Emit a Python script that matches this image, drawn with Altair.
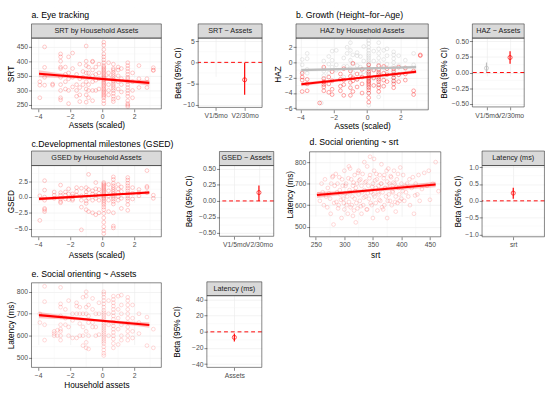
import altair as alt
import pandas as pd

FONT = "Liberation Sans"
RED = "#FF0000"
GREY = "#BDBDBD"
INK = "#333333"

# ---------------- data ----------------
ASSET_TICKS = [-4, -2, 0, 2]
ASSET_MINOR = [-3, -1, 1, 3]
SRT_TICKS = [250, 300, 350, 400, 450]
SRT_MINOR = [275, 325, 375, 425]
LAT_TICKS = [500, 600, 700, 800]
LAT_MINOR = [550, 650, 750]

# a. SRT by household assets  {assets: [SRT values]}
a_srt = {
    -3.9: [275, 330, 318], -3.6: [449, 379, 318, 345], -3.1: [318, 322],
    -2.6: [425, 415, 400, 380, 375, 345, 320, 300, 275, 268],
    -2.3: [380, 355, 330, 305], -2.1: [415, 360, 340, 300, 255],
    -1.85: [428, 375, 345, 312], -1.6: [355, 320, 300, 280],
    -1.4: [390, 340, 310, 285, 262], -1.2: [365, 345, 320],
    -1.0: [452, 400, 385, 360, 330, 305, 285, 260],
    -0.85: [380, 360, 345, 320, 300, 275],
    -0.6: [400, 398, 370, 350, 330, 300, 265],
    -0.4: [380, 355, 335, 300], -0.2: [390, 360, 340, 305],
    0.1: [465, 455, 440, 425, 415, 405, 395, 385, 380, 375, 370, 365, 360, 355,
          350, 345, 342, 338, 335, 330, 325, 320, 315, 310, 305, 300, 295, 290,
          285, 280, 275, 265, 255],
    0.4: [395, 360, 345, 320, 300, 285],
    0.7: [390, 375, 370, 362, 355, 348, 340, 335, 330, 322, 315, 308, 300, 290,
          280, 270, 262],
    1.0: [380, 370, 350, 330, 305, 275], 1.2: [375, 340, 320, 295],
    1.6: [395, 385, 375, 365, 355, 345, 340, 330, 320, 310, 300, 290, 280, 265,
          255, 250, 245],
    1.9: [360, 330, 300, 275], 2.3: [385, 340, 310], 2.8: [340, 310],
    3.2: [378, 370, 368],
}
a_fit_x = [-3.95, 2.95]
a_fit_y = [357, 326]
a_band_x = [-3.95, -2, 0, 2, 2.95]
a_band_lo = [345, 342, 335, 324, 316]
a_band_hi = [369, 354, 343.5, 336.5, 336]
a_beta_cat = ["V2/30mo"]
a_beta_est = [-4.1]
a_beta_lo = [-7.6]
a_beta_hi = [-0.1]

# b. HAZ by household assets, V1/5mo (grey) and V2/30mo (red)
b_v1 = {
    -3.9: [0.4, -0.3, -1.2], -3.6: [1.2, 0.5, -0.9, -1.4],
    -2.6: [0.2, -0.8, -1.1, -1.7], -2.3: [0.8, -0.2, -1.4],
    -2.1: [1.5, 0.3, -0.6], -1.85: [1.6, -0.3, -1.0], -1.4: [0.6, -0.5, -1.9],
    -1.2: [2.0, 1.2, -0.5], -1.0: [2.6, 1.6, 0.3, -0.8], -0.85: [1.0, -0.2, -1.3],
    -0.6: [1.3, 0.9, -0.4, -2.2], -0.4: [0.8, -0.6, -1.5], -0.2: [2.1, 0.2, -1.2],
    0.1: [2.9, 2.5, 2.0, 1.6, 1.2, 0.9, 0.6, 0.3, 0.0, -0.3, -0.6, -0.9, -1.2,
          -1.5, -2.0, -2.5, -3.2, -4.0, -5.6],
    0.4: [1.5, 0.2, -0.9, -2.1],
    0.7: [2.6, 1.8, 1.2, 0.6, 0.0, -0.5, -1.0, -1.5, -2.2, -3.0, -4.5],
    1.0: [1.6, 0.4, -0.7, -1.8], 1.2: [1.8, 0.9, -0.2, -1.3],
    1.6: [1.4, 1.0, 0.5, 0.0, -0.5, -1.0, -1.5, -2.0, -2.5],
    1.9: [0.9, -0.4, -1.6], 2.3: [0.3, -0.8], 2.8: [1.2, -0.3], -2.75: [-5.3],
}
b_v2 = {
    -3.9: [-3.8, -2.3, -1.9, -1.4], -3.6: [-3.7, -2.8, -2.2], -2.85: [-5.3],
    -2.6: [-0.6, -2.1, -2.5, -2.6, -2.9, -3.2, -3.7], -2.3: [-1.9, -2.8, -3.9],
    -2.1: [-1.2, -2.4, -3.5, -4.2], -1.6: [-1.5, -2.2, -3.1, -3.7],
    -1.4: [-0.8, -2.3, -2.9, -4.3], -1.0: [-1.1, -1.8, -2.6, -3.3, -4.3],
    -0.85: [-0.1, -2.0, -2.4, -3.8], -0.6: [-1.5, -2.2, -3.2],
    -0.3: [-0.9, -1.9, -2.8, -4.0],
    0.1: [-0.3, -0.8, -1.2, -1.5, -1.8, -2.0, -2.2, -2.4, -2.6, -2.8, -3.0, -3.3,
          -3.6, -4.0, -4.6, -5.2],
    0.4: [-1.0, -2.0, -3.0],
    0.7: [-0.4, -0.9, -1.3, -1.6, -1.9, -2.2, -2.5, -2.9, -3.3, -3.8],
    1.0: [-0.5, -1.4, -2.3, -3.1], 1.2: [-0.8, -1.6, -2.5],
    1.6: [-0.8, -1.2, -1.6, -2.0, -2.4, -2.8, -3.3], 1.9: [-0.6, -1.6, -2.5],
    2.3: [-0.7, -1.5, -2.3], 2.8: [-1.1, -3.7, -4.2], 3.2: [1.0, 0.9],
}
b_fit_x = [-3.95, 2.95]
b_fit_v1 = [-1.0, -0.6]
b_fit_v2 = [-2.85, -1.2]
b_band_x = [-3.95, -2, 0, 2, 2.95]
b_band_v1_lo = [-1.25, -1.05, -0.87, -0.8, -0.85]
b_band_v1_hi = [-0.75, -0.72, -0.67, -0.51, -0.35]
b_band_v2_lo = [-3.1, -2.55, -2.03, -1.6, -1.45]
b_band_v2_hi = [-2.6, -2.2, -1.8, -1.25, -0.95]
b_beta_cat = ["V1/5mo", "V2/30mo"]
b_beta_est = [0.07, 0.24]
b_beta_lo = [0.0, 0.14]
b_beta_hi = [0.16, 0.34]

# c. GSED by household assets
c_gsed = {
    -3.9: [0.2, -3.7], -3.6: [2.6, 1.1, 0.0, -0.5, -1.8, -2.0, -2.3],
    -3.0: [0.8, 0.3, -0.2], -2.6: [1.9, 0.7, 0.3, -0.3, -0.7, -0.9],
    -2.3: [0.8, 0.3, -0.3], -2.1: [1.3, 0.5, -0.4], -1.85: [0.5, 0.1, -0.3, -0.5],
    -1.6: [1.5, 0.9, 0.3], -1.3: [1.4, 0.2, -0.5, -1.6, -5.2],
    -1.0: [1.5, 0.8, 0.3, -0.6, -1.0, -2.0], -0.85: [3.6, 1.2, -0.2, -2.3],
    -0.6: [1.0, 0.5, -0.5, -2.5], -0.4: [2.3, 1.3, 0.3, -0.2, -2.8],
    -0.2: [1.2, 0.6, -0.5, -2.5],
    0.1: [2.3, 2.1, 1.9, 1.7, 1.5, 1.3, 1.1, 0.9, 0.7, 0.5, 0.3, 0.1, -0.1, -0.3,
          -0.6, -0.9, -1.2, -1.6, -2.0, -2.6, -3.3, -4.0, -4.7, -5.3, -5.8],
    0.4: [2.0, 1.0, 0.2, -0.5, -2.3],
    0.7: [3.2, 2.8, 2.2, 1.8, 1.5, 1.2, 0.9, 0.6, 0.3, 0.0, -0.3, -0.7, -1.1,
          -2.5, -4.6, -4.9],
    1.0: [2.0, 1.3, 0.7, 0.1, -0.5], 1.2: [1.6, 0.9, -0.2, -1.8],
    1.6: [3.1, 2.7, 2.2, 1.8, 1.4, 1.0, 0.6, 0.2, -0.2, -0.6, -1.2, -2.1],
    1.9: [1.5, 0.6, -0.3], 2.3: [1.2, 0.7, 0.2], 2.8: [4.2, 1.7, 1.5, 0.7],
    3.2: [0.3, -0.2],
}
c_fit_x = [-3.95, 2.95]
c_fit_y = [-0.28, 0.72]
c_band_x = [-3.95, -2, 0, 2, 2.95]
c_band_lo = [-0.55, -0.21, 0.17, 0.39, 0.45]
c_band_hi = [-0.01, 0.21, 0.41, 0.77, 0.99]
c_beta_cat = ["V2/30mo"]
c_beta_est = [0.13]
c_beta_lo = [0.0]
c_beta_hi = [0.24]

# d. Social orienting latency vs SRT
d_srt = [255, 257, 260, 262, 264, 266, 268, 270, 271, 273, 275, 276, 277, 279, 280,
         281, 282, 283, 285, 286, 287, 288, 289, 290, 291, 292, 293, 294, 295, 296,
         297, 298, 299, 300, 300, 301, 302, 303, 304, 305, 306, 307, 308, 308, 309,
         310, 310, 311, 312, 313, 314, 315, 315, 316, 317, 318, 318, 319, 320, 320,
         321, 322, 323, 324, 325, 325, 326, 327, 328, 329, 330, 330, 331, 332, 333,
         334, 335, 335, 336, 337, 338, 339, 340, 340, 341, 342, 343, 344, 345, 345,
         346, 347, 348, 349, 350, 350, 351, 352, 352, 353, 354, 355, 355, 356, 357,
         358, 359, 360, 360, 361, 362, 363, 364, 365, 365, 366, 367, 368, 369, 370,
         370, 371, 372, 373, 374, 375, 375, 376, 377, 378, 379, 380, 380, 381, 382,
         383, 384, 385, 386, 387, 388, 389, 390, 390, 391, 392, 393, 394, 395, 396,
         397, 398, 400, 400, 402, 403, 405, 407, 408, 410, 412, 414, 415, 418, 420,
         422, 424, 425, 428, 430, 432, 436, 440, 445, 448, 450, 455, 460, 465]
d_lat = [650, 620, 700, 660, 600, 720, 640, 590, 680, 655, 630, 560, 700, 730, 735,
         510, 610, 690, 745, 615, 660, 700, 585, 600, 730, 670, 650, 625, 540, 720,
         690, 630, 610, 760, 580, 655, 690, 700, 600, 640, 560, 725, 780, 615, 670,
         770, 660, 590, 720, 600, 640, 550, 690, 705, 575, 740, 630, 665, 520, 680,
         610, 700, 585, 750, 760, 650, 715, 620, 720, 595, 690, 560, 660, 745, 600,
         635, 800, 670, 705, 640, 710, 580, 780, 580, 655, 690, 630, 725, 825, 740,
         610, 660, 600, 685, 700, 540, 650, 815, 760, 640, 715, 680, 610, 745, 720,
         575, 660, 690, 650, 625, 740, 620, 700, 790, 700, 590, 660, 580, 725, 740,
         600, 680, 680, 640, 760, 710, 540, 620, 770, 650, 700, 690, 620, 735, 730,
         600, 665, 660, 705, 760, 700, 615, 640, 570, 685, 720, 610, 745, 680, 650,
         620, 775, 630, 700, 665, 740, 620, 690, 660, 700, 640, 720, 600, 680, 730,
         560, 645, 700, 650, 740, 620, 675, 750, 690, 760, 625, 700, 800, 665]
d_fit_x = [252, 460]
d_fit_y = [647, 696]
d_band_x = [252, 300, 350, 400, 460]
d_band_lo = [633, 650, 663, 672, 683]
d_band_hi = [661, 666, 677, 692, 709]
d_beta_cat = ["srt"]
d_beta_est = [0.23]
d_beta_lo = [0.06]
d_beta_hi = [0.39]

# e. Social orienting latency vs household assets
e_lat = {
    -3.9: [700, 660], -3.6: [825, 755, 650, 580], -3.0: [620, 610, 600],
    -2.8: [625, 600], -2.6: [820, 745, 730, 690, 650, 630, 620, 600, 580],
    -2.3: [720, 680, 650], -2.1: [760, 640, 600], -1.85: [700, 670, 590],
    -1.6: [750, 735, 700, 590], -1.4: [730, 700, 655, 600],
    -1.2: [775, 700, 640, 600, 555], -1.0: [800, 780, 730, 700, 620, 570, 545],
    -0.85: [740, 690, 660, 600, 540], -0.6: [770, 720, 660, 640],
    -0.4: [700, 640, 600], -0.2: [750, 700, 605],
    0.1: [800, 790, 775, 760, 745, 730, 715, 705, 695, 685, 675, 665, 655, 645,
          635, 625, 615, 605, 595, 585, 575, 565, 550, 535, 520, 510],
    0.4: [760, 700, 650, 600],
    0.7: [780, 765, 750, 735, 720, 705, 690, 675, 660, 645, 630, 615, 600, 585,
          565, 545],
    1.0: [780, 720, 680, 630, 560], 1.2: [785, 740, 700, 650, 600, 580],
    1.6: [775, 760, 740, 720, 700, 680, 660, 640, 620, 600, 580],
    1.9: [740, 680, 620, 590], 2.3: [700, 660, 610], 2.8: [685, 555],
    3.2: [630, 545],
}
e_fit_x = [-3.95, 2.95]
e_fit_y = [694, 649]
e_band_x = [-3.95, -2, 0, 2, 2.95]
e_band_lo = [680, 673, 663, 646, 636]
e_band_hi = [708, 689, 673, 664, 662]
e_beta_cat = ["Assets"]
e_beta_est = [-6.8]
e_beta_lo = [-12.0]
e_beta_hi = [-2.0]

one = pd.DataFrame({"k": [0]})


def cols_df(d):
    return pd.DataFrame([(x, y) for x, ys in d.items() for y in ys], columns=["x", "y"])


def y_axis(title, values, fmt, E, P):
    return alt.Axis(title=title, values=values, format=fmt, tickSize=3, tickColor=INK,
                    tickWidth=0.6, labelPadding=1, labelFontSize=7, labelColor="#4D4D4D",
                    labelFont=FONT, titleFont=FONT, titleFontSize=8.5,
                    titleFontWeight="normal", titleColor="black", titlePadding=P,
                    minExtent=E, maxExtent=E, domain=False, grid=True,
                    gridColor="#EBEBEB", gridWidth=0.6, labelFlush=False)


def x_axis(title, values, fmt, lpad=1, tpad=1.5):
    kw = dict(tickSize=3, tickColor=INK, tickWidth=0.6, labelPadding=lpad,
              labelFontSize=7, labelColor="#4D4D4D", labelFont=FONT, titleFont=FONT,
              titleFontSize=8.5, titleFontWeight="normal", titleColor="black",
              titlePadding=tpad, domain=False, grid=True, gridColor="#EBEBEB",
              gridWidth=0.6, labelFlush=False, labelAngle=0, labelOverlap=False)
    if values is not None:
        kw["values"] = values
        kw["format"] = fmt
    return alt.Axis(title=title, **kw)


def minor_grid(xs, ys, ax, ay, xminor, yminor):
    out = []
    if xminor:
        out.append(alt.Chart(pd.DataFrame({"g": xminor})).mark_rule(
            color="#F2F2F2", strokeWidth=0.4).encode(x=alt.X("g:Q", scale=xs, axis=ax)))
    if yminor:
        out.append(alt.Chart(pd.DataFrame({"g": yminor})).mark_rule(
            color="#F2F2F2", strokeWidth=0.4).encode(y=alt.Y("g:Q", scale=ys, axis=ay)))
    return out


def decor(w, h, top, strip_top=None, strip=None, title=None, title_y=None):
    out = [alt.Chart(one).mark_rect(fill="white", strokeWidth=0).encode(
        x=alt.value(0), x2=alt.value(w), y=alt.value(0), y2=alt.value(top))]
    if strip:
        out.append(alt.Chart(one).mark_rect(fill="#D9D9D9", stroke=INK, strokeWidth=0.6).encode(
            x=alt.value(0), x2=alt.value(w), y=alt.value(strip_top), y2=alt.value(top)))
        out.append(alt.Chart(one).mark_text(text=strip, font=FONT, fontSize=7.5,
                                            color="#1A1A1A", align="center",
                                            baseline="middle").encode(
            x=alt.value(w / 2), y=alt.value((strip_top + top) / 2)))
    out.append(alt.Chart(one).mark_rect(fillOpacity=0, stroke=INK, strokeWidth=0.6).encode(
        x=alt.value(0), x2=alt.value(w), y=alt.value(top), y2=alt.value(h)))
    if title:
        out.append(alt.Chart(one).mark_text(text=title, font=FONT, fontSize=9,
                                            color="black", align="left",
                                            baseline="middle").encode(
            x=alt.value(0), y=alt.value(title_y)))
    return out


def scatter(series, xdom, ydom, xticks, xfmt, yticks, yfmt, xtitle, ytitle,
            w, h, top, E, P, tpad, title, title_y, xminor, yminor,
            strip_top=None, strip=None):
    xs = alt.Scale(domain=xdom, nice=False, zero=False)
    ys = alt.Scale(domain=ydom, range=[h, top], nice=False, zero=False)
    ax = x_axis(xtitle, xticks, xfmt, 1, tpad)
    ay = y_axis(ytitle, yticks, yfmt, E, P)
    X = alt.X("x:Q", scale=xs, axis=ax)
    pts, lines = [], []
    for pdf, fit, band, col, pop in series:
        pts.append(alt.Chart(pdf).mark_point(shape="circle", filled=False, size=15,
                                             strokeWidth=0.6, color=col, opacity=pop).encode(
            x=X, y=alt.Y("y:Q", scale=ys, axis=ay)))
        lines.append(alt.Chart(band).mark_area(color=col, opacity=0.22).encode(
            x=X, y=alt.Y("lo:Q", scale=ys, axis=ay), y2="hi:Q"))
        lines.append(alt.Chart(fit).mark_line(color=col, strokeWidth=2.2).encode(
            x=X, y=alt.Y("y:Q", scale=ys, axis=ay)))
    layers = (minor_grid(xs, ys, ax, ay, xminor, yminor) + pts + lines
              + decor(w, h, top, strip_top, strip, title, title_y))
    return alt.layer(*layers).properties(width=w, height=h)


def beta(series, cats, ydom, yticks, yfmt, yminor, w, h, top, strip_top, strip, E, P):
    xs = alt.Scale(type="point", domain=cats, padding=0.6)
    ys = alt.Scale(domain=ydom, range=[h, top], nice=False, zero=False)
    ax = x_axis(None, None, None, 1.5)
    ay = y_axis("Beta (95% CI)", yticks, yfmt, E, P)
    layers = minor_grid(xs, ys, ax, ay, None, yminor)
    for df, col in series:
        X = alt.X("cat:N", scale=xs, axis=ax)
        layers.append(alt.Chart(df).mark_rule(color=col, strokeWidth=1.2).encode(
            x=X, y=alt.Y("lo:Q", scale=ys, axis=ay), y2="hi:Q"))
        layers.append(alt.Chart(df).mark_point(shape="circle", filled=False, size=18,
                                               strokeWidth=1, color=col).encode(
            x=X, y=alt.Y("est:Q", scale=ys, axis=ay)))
    layers.append(alt.Chart(pd.DataFrame({"z": [0]})).mark_rule(
        color=RED, stroke=RED, strokeDash=[4, 3], strokeWidth=1).encode(
        y=alt.Y("z:Q", scale=ys, axis=ay)))
    layers += decor(w, h, top, strip_top, strip)
    return alt.layer(*layers).properties(width=w, height=h)


def fit_df(x, y):
    return pd.DataFrame({"x": x, "y": y})


def band_df(x, lo, hi):
    return pd.DataFrame({"x": x, "lo": lo, "hi": hi})


def beta_df(cat, est, lo, hi):
    return pd.DataFrame({"cat": cat, "est": est, "lo": lo, "hi": hi})


# ---------------- row 1 ----------------
pa = scatter([(cols_df(a_srt), fit_df(a_fit_x, a_fit_y), band_df(a_band_x, a_band_lo, a_band_hi), RED, 0.35)],
             [-4.42, 3.7], [237, 479], ASSET_TICKS, "d", [250, 300, 350, 400, 450], "d",
             "Assets (scaled)", "SRT", 134, 105, 32, 16, 1, 1.5,
             "a. Eye tracking", 8.5, ASSET_MINOR, [275, 325, 375, 425],
             17.3, "SRT by Household Assets")
pab = beta([(beta_df(a_beta_cat, a_beta_est, a_beta_lo, a_beta_hi), RED)],
           ["V1/5mo", "V2/30mo"], [-10.6, 5.7], [-10, -5, 0, 5], "d", [-7.5, -2.5, 2.5],
           66, 103.5, 32, 17.3, "SRT ~ Assets", 15.5, 1)
pb = scatter([(cols_df(b_v1), fit_df(b_fit_x, b_fit_v1), band_df(b_band_x, b_band_v1_lo, b_band_v1_hi), GREY, 0.55),
              (cols_df(b_v2), fit_df(b_fit_x, b_fit_v2), band_df(b_band_x, b_band_v2_lo, b_band_v2_hi), RED, 0.6)],
             [-4.27, 3.68], [-6.2, 3.2], ASSET_TICKS, "d", [-6, -4, -2, 0, 2], "d",
             "Assets (scaled)", "HAZ", 136.5, 106, 32, 12.5, 1, 1.5,
             "b. Growth (Height\u2212for\u2212Age)", 8.5, ASSET_MINOR, [-5, -3, -1, 1, 3],
             17.3, "HAZ by Household Assets")
pbb = beta([(beta_df(b_beta_cat[:1], b_beta_est[:1], b_beta_lo[:1], b_beta_hi[:1]), GREY),
            (beta_df(b_beta_cat[1:], b_beta_est[1:], b_beta_lo[1:], b_beta_hi[1:]), RED)],
           ["V1/5mo", "V2/30mo"], [-0.55, 0.55], [-0.5, -0.25, 0, 0.25, 0.5], ".2f",
           [-0.375, -0.125, 0.125, 0.375],
           53.5, 103, 32, 17.3, "HAZ ~ Assets", 24, 1)

# ---------------- row 2 ----------------
R2 = 127
pc = scatter([(cols_df(c_gsed), fit_df(c_fit_x, c_fit_y), band_df(c_band_x, c_band_lo, c_band_hi), RED, 0.35)],
             [-4.42, 3.7], [-6.3, 5.0], ASSET_TICKS, "d", [-5, -2.5, 0, 2.5], ".1f",
             "Assets (scaled)", "GSED", 134, 236 - R2, 162.5 - R2, 16, 1, 3,
             "c.Developmental milestones (GSED)", 140 - R2, ASSET_MINOR,
             [-3.75, -1.25, 1.25, 3.75], 147.5 - R2, "GSED by Household Assets")
pcb = beta([(beta_df(c_beta_cat, c_beta_est, c_beta_lo, c_beta_hi), RED)],
           ["V1/5mo", "V2/30mo"], [-0.55, 0.55], [-0.5, -0.25, 0, 0.25, 0.5], ".2f",
           [-0.375, -0.125, 0.125, 0.375],
           56, 235.5 - R2, 162.5 - R2, 148 - R2, "GSED \u2212 Assets", 25.5, 1)
pd_ = scatter([(pd.DataFrame({"x": d_srt, "y": d_lat}), fit_df(d_fit_x, d_fit_y), band_df(d_band_x, d_band_lo, d_band_hi), RED, 0.25)],
              [239, 469], [453, 848], SRT_TICKS, "d", LAT_TICKS, "d",
              "srt", "Latency (ms)", 135.4, 236 - R2, 148.3 - R2, 14.1, 1, 3,
              "d. Social orienting ~ srt", 138.5 - R2, SRT_MINOR, LAT_MINOR)
pdb = beta([(beta_df(d_beta_cat, d_beta_est, d_beta_lo, d_beta_hi), RED)],
           ["srt"], [-1.07, 1.05], [-1, -0.5, 0, 0.5, 1], ".1f", [-0.75, -0.25, 0.25, 0.75],
           64.4, 236 - R2, 162.5 - R2, 147.5 - R2, "Latency (ms)", 19.1, 1)

# ---------------- row 3 ----------------
R3 = 256.5
pe = scatter([(cols_df(e_lat), fit_df(e_fit_x, e_fit_y), band_df(e_band_x, e_band_lo, e_band_hi), RED, 0.25)],
             [-4.42, 3.7], [456, 841], ASSET_TICKS, "d", LAT_TICKS, "d",
             "Household assets", "Latency (ms)", 134, 367.3 - R3, 280 - R3, 16, 1, 3,
             "e. Social orienting ~ Assets", 270.7 - R3, ASSET_MINOR, LAT_MINOR)
peb = beta([(beta_df(e_beta_cat, e_beta_est, e_beta_lo, e_beta_hi), RED)],
           ["Assets"], [-44, 44.8], [-40, -20, 0, 20, 40], "d", [-30, -10, 10, 30],
           56.7, 367.3 - R3, 293.3 - R3, 279 - R3, "Latency (ms)", 24.8, 1)

row1 = alt.hconcat(pa, pab, pb, pbb, spacing=11)
row2 = alt.hconcat(pc, pcb, pd_, pdb, spacing=11)
row3 = alt.hconcat(pe, peb, spacing=11)

chart = alt.vconcat(row1, row2, row3, spacing=0).properties(
    padding={"left": 6.5, "top": 0, "right": 1, "bottom": 1},
    background="white",
).configure_view(strokeWidth=0).configure_text(font=FONT)

chart.save("out.html", embed_options={"renderer": "svg", "actions": False})
